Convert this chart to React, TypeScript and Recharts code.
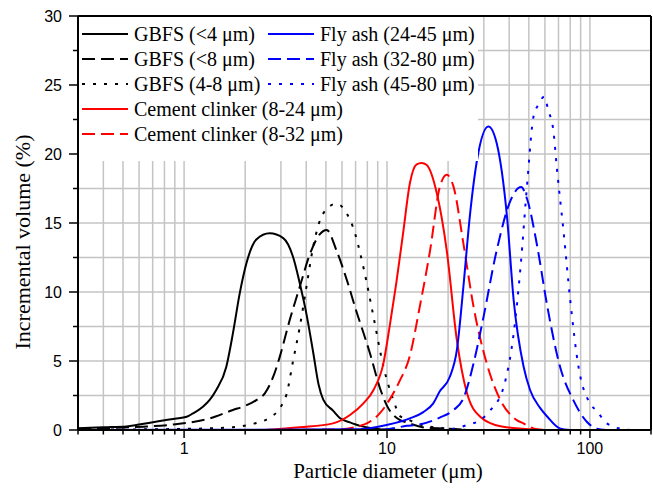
import React from 'react';
import { LineChart, Line, XAxis, YAxis, CartesianGrid, ReferenceLine, Label } from 'recharts';

type Pt = [number, number];

// particle diameter (um), incremental volume (%)
const gbfsUnder4: Pt[] = [
  [0.3, 0.12], [0.4, 0.2], [0.52, 0.26], [0.6, 0.4], [0.76, 0.65], [0.9, 0.82], [1.03, 0.96],
  [1.105, 1.2], [1.238, 1.69], [1.34, 2.2], [1.44, 2.9], [1.615, 4.59], [1.74, 7.0], [1.88, 9.9],
  [2.03, 12.1], [2.27, 13.8], [2.64, 14.25], [3.08, 13.9], [3.45, 12.5], [3.72, 10.6], [4.01, 8.4],
  [4.33, 5.6], [4.6, 3.3], [4.85, 2.2], [5.42, 1.4], [5.87, 0.85], [6.57, 0.55], [7.36, 0.3],
  [8, 0.18], [9, 0.08], [10, 0.03], [12, 0],
];
const gbfsUnder8: Pt[] = [
  [0.3, 0.07], [0.45, 0.15], [0.63, 0.24], [0.91, 0.42], [1.34, 0.84], [1.74, 1.45], [2.0, 1.75],
  [2.27, 2.17], [2.5, 2.66], [2.75, 3.86], [2.96, 5.3], [3.32, 8.0], [3.72, 10.4], [4.18, 12.8],
  [4.67, 14.2], [5.04, 14.5], [5.64, 13.0], [6.33, 10.9], [7.1, 8.5], [7.36, 7.8], [8.24, 5.56],
  [9.2, 3.1], [9.96, 1.8], [11.6, 0.72], [12.5, 0.55], [15.7, 0.15], [20, 0.1], [25, 0],
];
const gbfs4to8: Pt[] = [
  [0.3, 0.02], [1.0, 0.08], [1.34, 0.12], [1.74, 0.2], [2.19, 0.45], [2.6, 0.84], [2.96, 1.57],
  [3.2, 2.6], [3.45, 5.07], [3.72, 7.5], [4.01, 10.4], [4.33, 13.3], [4.85, 15.7], [5.64, 16.4],
  [6.33, 15.7], [6.8, 14.7], [7.65, 11.8], [8.58, 8.2], [9.6, 4.6], [10.75, 2.17], [11.6, 1.0],
  [12.5, 0.8], [14, 0.48], [16.9, 0.2], [20, 0.1], [25, 0],
];
const clinker8to24: Pt[] = [
  [2.5, 0], [3.72, 0.2], [5.42, 0.48], [6.57, 1.09], [7.65, 1.93], [8.58, 2.9], [9.6, 4.83],
  [10.3, 7.49], [11.1, 10.6], [12.0, 14.25], [12.97, 17.9], [14.0, 19.25], [14.8, 19.35],
  [15.7, 19.2], [17.6, 17.15], [19.7, 13.0], [22.1, 6.5], [24.8, 2.66], [28.8, 0.96],
  [36.2, 0.27], [50.7, 0.05], [60, 0],
];
const clinker8to32: Pt[] = [
  [2.5, 0], [5.87, 0.05], [7.36, 0.3], [7.95, 0.48], [9.2, 1.2], [10.3, 2.2], [11.5, 3.5],
  [12.97, 5.4], [14.5, 8.93], [16.3, 13.0], [18.2, 17.6], [19.7, 18.5], [21.3, 17.6],
  [23.8, 13.5], [26.7, 8.93], [31, 4.83], [36.2, 2.17], [43.6, 0.72], [47, 0.48], [52.7, 0.12],
  [60, 0],
];
const flyAsh24to45: Pt[] = [
  [0.3, 0], [7.36, 0.05], [7.95, 0.1], [9.96, 0.36], [12.97, 0.84], [15.1, 1.3], [16.9, 1.93],
  [18.2, 2.8], [20.4, 3.86], [22.1, 5.8], [23.8, 10.4], [25.6, 15.5], [27.8, 19.6], [31.6, 22.0],
  [34.7, 20.8], [39, 15.5], [42.1, 9.4], [47.1, 4.6], [50.7, 2.9], [56.8, 1.6], [61.7, 0.96],
  [71, 0.12], [80, 0],
];
const flyAsh32to80: Pt[] = [
  [0.3, 0], [9, 0], [10.7, 0.12], [12.5, 0.3], [14, 0.36], [18.2, 0.9], [21.3, 1.45], [23.8, 2.3],
  [26.7, 4.83], [29.9, 8.2], [34.7, 13.0], [40.8, 16.7], [45.8, 17.6], [49.1, 16.7], [54.7, 13.5],
  [61.7, 8.93], [71.2, 4.6], [82.6, 2.2], [96.5, 0.6], [108, 0.1], [120, 0],
];
const flyAsh45to80: Pt[] = [
  [0.3, 0], [16.9, 0], [20.4, 0.05], [24.8, 0.36], [28.8, 0.72], [32.2, 1.4], [37.6, 3.14],
  [42.1, 7.0], [45.5, 11.8], [49.1, 17.9], [52.7, 22.7], [55.9, 23.6], [59.5, 24.15], [62.3, 23.2],
  [66.3, 21.5], [68.6, 19.1], [74.3, 14.25], [80, 9.4], [87.8, 4.6], [100, 1.93], [108, 1.4],
  [121, 0.48], [147, 0.05], [160, 0],
];

const xTicks = [
  0.3, 0.4, 0.5, 0.6, 0.7, 0.8, 0.9, 1, 2, 3, 4, 5, 6, 7, 8, 9,
  10, 20, 30, 40, 50, 60, 70, 80, 90, 100, 200,
];
const xLabeled = [1, 10, 100];
const yTicks = [0, 2.5, 5, 7.5, 10, 12.5, 15, 17.5, 20, 22.5, 25, 27.5, 30];

const DASH = '13 6';
const DOT = '3 8';

const series = [
  { name: 'GBFS (<4 μm)', color: '#000', dash: undefined, pts: gbfsUnder4, col: 0, row: 0 },
  { name: 'GBFS (<8 μm)', color: '#000', dash: DASH, pts: gbfsUnder8, col: 0, row: 1 },
  { name: 'GBFS (4-8 μm)', color: '#000', dash: DOT, pts: gbfs4to8, col: 0, row: 2 },
  { name: 'Cement clinker (8-24 μm)', color: '#ff0000', dash: undefined, pts: clinker8to24, col: 0, row: 3 },
  { name: 'Cement clinker (8-32 μm)', color: '#ff0000', dash: DASH, pts: clinker8to32, col: 0, row: 4 },
  { name: 'Fly ash (24-45 μm)', color: '#0000ff', dash: undefined, pts: flyAsh24to45, col: 1, row: 0 },
  { name: 'Fly ash (32-80 μm)', color: '#0000ff', dash: DASH, pts: flyAsh32to80, col: 1, row: 1 },
  { name: 'Fly ash (45-80 μm)', color: '#0000ff', dash: DOT, pts: flyAsh45to80, col: 1, row: 2 },
];

const SERIF = '"Liberation Serif", "Times New Roman", serif';
const SANS = '"Liberation Sans", Arial, sans-serif';
const GRID = '#c4c4c4';

const XTick = ({ x, y, payload }: any) => {
  const major = xLabeled.includes(payload.value);
  return (
    <g>
      <line x1={x} x2={x} y1={y} y2={y + (major ? 8 : 4.5)} stroke="#000" strokeWidth={1.5} />
      {major && (
        <text x={x} y={y + 24} textAnchor="middle" fontFamily={SANS} fontSize={16} fill="#000">
          {payload.value}
        </text>
      )}
    </g>
  );
};

const YTick = ({ x, y, payload }: any) => {
  const major = payload.value % 5 === 0;
  return (
    <g>
      <line x1={x} x2={x - (major ? 9 : 5)} y1={y} y2={y} stroke="#000" strokeWidth={1.5} />
      {major && (
        <text x={x - 16} y={y + 6} textAnchor="end" fontFamily={SANS} fontSize={16} fill="#000">
          {payload.value}
        </text>
      )}
    </g>
  );
};

const LegendBox = () => (
  <svg width={653} height={490} style={{ position: 'absolute', left: 0, top: 0, pointerEvents: 'none' }}>
    <rect x={79} y={17} width={399} height={144} fill="#fff" />
    {series.map((s) => {
      const lx = s.col === 0 ? 82 : 268;
      const cy = 34 + s.row * 25;
      return (
        <g key={s.name}>
          <line x1={lx} x2={lx + 46} y1={cy} y2={cy} stroke={s.color} strokeWidth={2} strokeDasharray={s.dash} />
          <text x={lx + 52} y={cy + 7} fontFamily={SERIF} fontSize={20} fill="#000">{s.name}</text>
        </g>
      );
    })}
  </svg>
);

export default function App() {
  return (
    <div style={{ position: 'absolute', left: 0, top: 0, width: 653, height: 490, background: '#fff' }}>
      <LineChart width={653} height={490} margin={{ top: 16, right: 2, left: 0, bottom: 0 }}>
        <CartesianGrid stroke={GRID} strokeWidth={1.5} />
        <XAxis
          dataKey="d"
          type="number"
          scale="log"
          domain={[0.3, 200]}
          allowDataOverflow
          ticks={xTicks}
          interval={0}
          height={60}
          tickSize={0}
          tickMargin={0}
          tickLine={false}
          tick={<XTick />}
          axisLine={{ stroke: '#000', strokeWidth: 2 }}
        >
          <Label
            content={() => (
              <text x={388} y={478} textAnchor="middle" fontFamily={SERIF} fontSize={21} fill="#000">
                Particle diameter (μm)
              </text>
            )}
          />
        </XAxis>
        <YAxis
          type="number"
          domain={[0, 30]}
          ticks={yTicks}
          interval={0}
          width={78}
          tickSize={0}
          tickMargin={0}
          tickLine={false}
          tick={<YTick />}
          axisLine={{ stroke: '#000', strokeWidth: 2 }}
        >
          <Label
            content={() => (
              <text
                x={22}
                y={242}
                transform="rotate(-90 22 242)"
                textAnchor="middle"
                dominantBaseline="central"
                fontFamily={SERIF}
                fontSize={22}
                fill="#000"
              >
                Incremental volume (%)
              </text>
            )}
          />
        </YAxis>
        <ReferenceLine y={30} stroke="#000" strokeWidth={2} />
        <ReferenceLine x={200} stroke="#000" strokeWidth={2} />
        {series.map((s) => (
          <Line
            key={s.name}
            data={s.pts.map(([d, v]) => ({ d, v }))}
            dataKey="v"
            type="monotone"
            stroke={s.color}
            strokeWidth={2}
            strokeDasharray={s.dash}
            dot={false}
            activeDot={false}
            isAnimationActive={false}
          />
        ))}
      </LineChart>
      <LegendBox />
    </div>
  );
}
